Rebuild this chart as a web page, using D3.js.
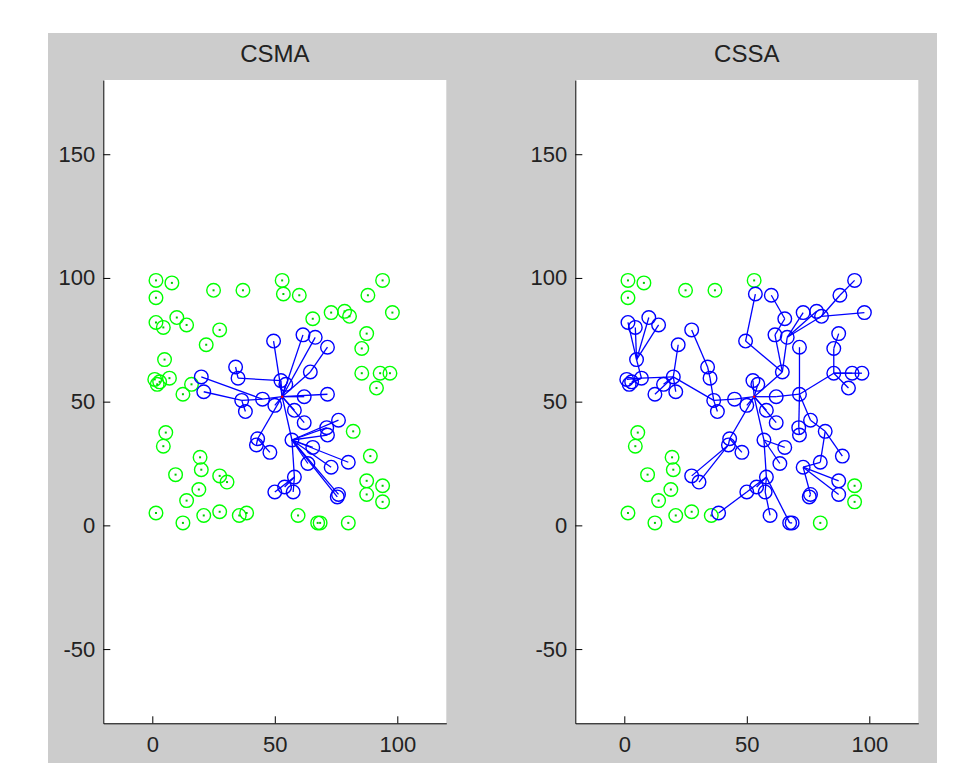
<!DOCTYPE html>
<html>
<head>
<meta charset="utf-8">
<script src="https://cdn.jsdelivr.net/npm/d3@7"></script>
<style>
  body { margin: 0; background: #fff; }
  text { font-family: "Liberation Sans", Arial, sans-serif; }
</style>
</head>
<body>
<svg id="drawing_region"></svg>
<script>
// node positions (index 95 is the sink)
const nodeX = [1.5, 8, 1.5, 25, 37, 1.5, 4.5, 10, 14, 27.5,
    22, 5, 1, 2, 3, 7, 12.5, 16, 53, 53.5,
    60, 94, 88, 98, 73, 78.5, 80.5, 65.5, 87.5, 85.5,
    85.5, 93, 97, 91.5, 5.5, 4.5, 19.5, 20, 9.5, 27.5,
    30.5, 19, 14, 1.5, 12.5, 21, 27.5, 35.5, 38.5, 82,
    89, 87.5, 94, 87.5, 94, 59.5, 67.5, 68.5, 80, 20,
    21, 34, 35, 36.5, 38, 45, 52.5, 54.5, 62, 71.5,
    62, 58, 50, 43, 42.5, 48, 57, 65.5, 76, 71.2,
    71.5, 63.5, 73, 80, 58, 50, 57.5, 54, 76, 75.5,
    49.5, 61.5, 66.5, 71.5, 64.5, 53];
const nodeY = [99, 98, 92, 95, 95, 82, 80, 84, 81, 79,
    73, 67, 59, 57, 58, 59.5, 53, 57, 99, 93.5,
    93, 99, 93, 86, 86, 86.5, 84.5, 83.5, 77.5, 71.5,
    61.5, 61.5, 61.5, 55.5, 37.5, 32, 27.5, 22.5, 20.5, 20,
    17.5, 14.5, 10, 5, 1, 4, 5.5, 4, 5, 38,
    28, 18, 16, 12.5, 9.5, 4, 1, 1, 1, 60,
    54, 64, 59.5, 50.5, 46, 51, 58.5, 57, 52, 53,
    41.5, 46.5, 48.5, 35, 32.5, 29.5, 34.5, 31.5, 42.5, 39.5,
    36.5, 25, 23.5, 25.5, 19.5, 13.5, 13.5, 15.5, 12.5, 11.5,
    74.5, 77, 76, 72, 62, 52];
const sinkIndex = 95;

// parent of each node in the routing tree, -1 = not connected
const csmaParent = [-1, -1, -1, -1, -1, -1, -1, -1, -1, -1,
    -1, -1, -1, -1, -1, -1, -1, -1, -1, -1,
    -1, -1, -1, -1, -1, -1, -1, -1, -1, -1,
    -1, -1, -1, -1, -1, -1, -1, -1, -1, -1,
    -1, -1, -1, -1, -1, -1, -1, -1, -1, -1,
    -1, -1, -1, -1, -1, -1, -1, -1, -1, 65,
    63, 62, 66, 65, 63, 95, 95, 95, 95, 95,
    95, 95, 95, 95, 73, 73, 95, 76, 76, 76,
    76, 76, 76, 76, 76, 84, 84, 84, 76, 76,
    95, 95, 95, 94, 95, -1];
const cssaParent = [-1, -1, -1, -1, -1, 11, 11, 11, 11, 61,
    59, 15, 15, 15, 15, 59, 59, 59, -1, 90,
    27, 22, 26, 26, 92, 92, 92, 91, 29, 30,
    69, 30, 30, 30, -1, -1, -1, -1, -1, 74,
    74, -1, -1, -1, -1, -1, -1, -1, 85, 78,
    49, 82, -1, 82, -1, 86, 84, 56, -1, 63,
    59, 62, 63, 65, 63, 95, 95, 95, 95, 68,
    95, 95, 95, 95, 73, 73, 95, 76, 69, 69,
    79, 76, 83, 49, 76, 84, 84, 84, 82, 88,
    94, 94, 94, 69, 95, -1];

const panelTitles = ['CSMA', 'CSSA'];
const panelParents = [csmaParent, cssaParent];
const panelLeft = [103.3, 575.3];
const xTicks = [0, 50, 100];
const yTicks = [-50, 0, 50, 100, 150];

const svg = d3.select('#drawing_region')
    .attr('width', 961)
    .attr('height', 763);

// figure background
svg.append('rect')
    .attr('x', 48).attr('y', 33)
    .attr('width', 889).attr('height', 730)
    .attr('fill', '#cccccc');

const axTop = 80, axWidth = 343, axHeight = 643.3;

panelTitles.forEach((title, p) => {
    const parent = panelParents[p];

    const xscale = d3.scaleLinear().domain([-20, 120]).range([0, axWidth]);
    const yscale = d3.scaleLinear().domain([-80, 180]).range([axHeight, 0]);

    const g = svg.append('g')
        .attr('transform', `translate(${panelLeft[p]}, ${axTop})`);

    g.append('rect')
        .attr('width', axWidth).attr('height', axHeight)
        .attr('fill', '#ffffff');

    // axes, ticks pointing inside, plain hyphen for negatives
    const xaxis = g.append('g')
        .attr('transform', `translate(0, ${axHeight})`)
        .call(d3.axisBottom(xscale).tickValues(xTicks).tickFormat(d => String(d))
            .tickSizeInner(-7).tickSizeOuter(0).tickPadding(13));
    const yaxis = g.append('g')
        .call(d3.axisLeft(yscale).tickValues(yTicks).tickFormat(d => String(d))
            .tickSizeInner(-7).tickSizeOuter(0).tickPadding(8));

    [xaxis, yaxis].forEach(ax => {
        ax.selectAll('path, line').attr('stroke', '#000').attr('stroke-width', 1);
        ax.selectAll('text')
            .attr('fill', '#222')
            .style('font-size', '22px')
            .style('font-family', '"Liberation Sans", Arial, sans-serif');
    });

    g.append('text')
        .attr('x', axWidth / 2)
        .attr('y', -18)
        .attr('text-anchor', 'middle')
        .style('font-size', '24px')
        .attr('fill', '#222')
        .text(title);

    const ids = d3.range(nodeX.length - 1);
    const linked = ids.filter(i => parent[i] >= 0);
    const connected = new Set(linked.concat(linked.map(i => parent[i])));

    // tree links
    g.append('g').selectAll('line')
        .data(linked)
        .join('line')
        .attr('x1', i => xscale(nodeX[i]))
        .attr('y1', i => yscale(nodeY[i]))
        .attr('x2', i => xscale(nodeX[parent[i]]))
        .attr('y2', i => yscale(nodeY[parent[i]]))
        .attr('stroke', '#0000ff')
        .attr('stroke-width', 1.3);

    // nodes
    const nodes = g.append('g').selectAll('g')
        .data(ids)
        .join('g')
        .attr('transform', i => `translate(${xscale(nodeX[i])}, ${yscale(nodeY[i])})`);

    nodes.append('circle')
        .attr('r', 6.8)
        .attr('fill', 'none')
        .attr('stroke', i => connected.has(i) ? '#0000ff' : '#00ff00')
        .attr('stroke-width', 1.4);

    nodes.filter(i => !connected.has(i))
        .append('rect')
        .attr('x', -1).attr('y', -1)
        .attr('width', 2).attr('height', 2)
        .attr('fill', '#00cc00');

    // sink
    g.append('circle')
        .attr('cx', xscale(nodeX[sinkIndex]))
        .attr('cy', yscale(nodeY[sinkIndex]))
        .attr('r', 1.3)
        .attr('fill', '#ff0000');
});
</script>
</body>
</html>
